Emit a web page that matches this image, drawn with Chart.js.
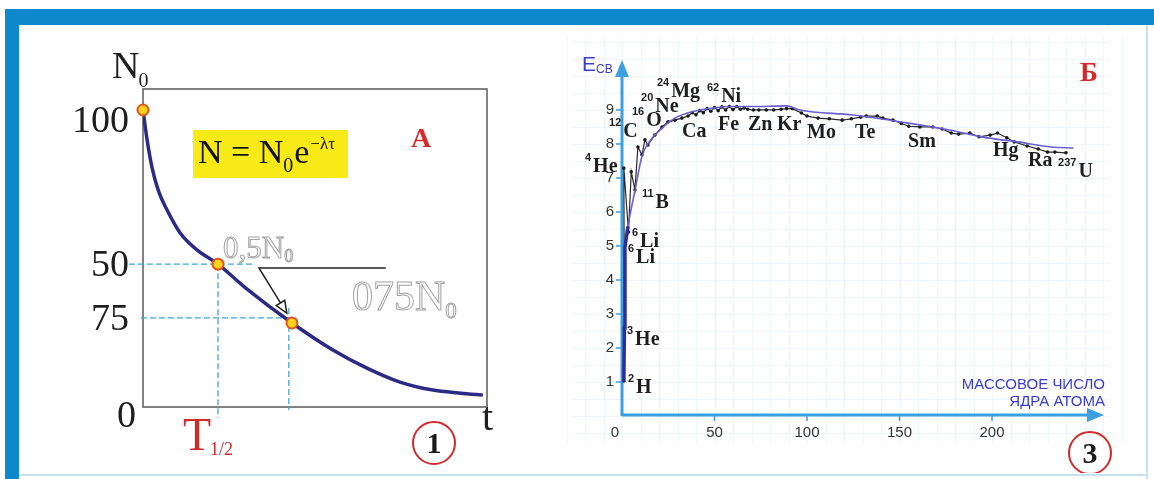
<!doctype html>
<html lang="ru">
  <head>
    <meta charset="utf-8">
    <title>Закон радиоактивного распада и энергия связи ядер</title>
    <style>
      * { margin: 0; padding: 0; }
      body { width: 1154px; height: 479px; background: #fff; position: relative; overflow: hidden; }
      .frameTop { position: absolute; left: 5px; top: 9px; width: 1149px; height: 16px; background: #0d88cd; }
      .frameLeft { position: absolute; left: 5px; top: 9px; width: 14px; height: 470px; background: #0d88cd; }
      .frameRight { position: absolute; left: 1146px; top: 25px; width: 2px; height: 454px; background: #c4e2f3; }
      .frameBottom { position: absolute; left: 19px; top: 474px; width: 1129px; height: 2px; background: #c4e2f3; }
      #decay { position: absolute; left: 20px; top: 25px; }
      #binding { position: absolute; left: 560px; top: 25px; }
    </style>
  </head>
  <body>
    <div class="frameTop"></div>
    <div class="frameLeft"></div>
    <div class="frameRight"></div>
    <div class="frameBottom"></div>
    <canvas id="decay" width="540" height="450"></canvas>
    <canvas id="binding" width="580" height="448"></canvas>
    <script src="https://cdn.jsdelivr.net/npm/chart.js@4.4.1/dist/chart.umd.min.js"></script>
    <script>
    // ---- panel 1: decay curve (t in 0..10, N in % of N0)
    const decayT = [0, 0.12, 0.26, 0.44, 0.70, 1.08, 1.57, 2.18, 2.97, 4.33, 5.52, 6.51, 7.47, 8.43, 9.88];
    const decayN = [100, 89.9, 80.8, 73.1, 66.3, 58.6, 52.9, 48.1, 40.2, 28.3, 19.2, 13.1, 8.4, 5.7, 4.0];
    const markT = [0, 2.18, 4.33];
    const markN = [100, 48.1, 28.3];
    // y tick labels as printed on the picture and the level where each one sits
    const decayTickText = ['100', '50', '75', '0'];
    const decayTickAt = [96, 47.5, 29.3, -3.4];
    // dashed guides: horizontal [N, t from, t to], vertical [t, N from, N to]
    const guideH = [[48.1, -0.41, 3.23], [30.0, -0.06, 4.36]];
    const guideV = [[2.18, 48.1, -3.7], [4.24, 33.3, -1.0]];

    // ---- panel 3: binding energy per nucleon vs mass number
    const blackA = [1, 1.3, 1, 3.5, 5, 7, 8.6, 10.8, 12.4, 14, 17.8, 21.6, 24.9, 28.6, 32.4, 35.7, 38, 40, 42, 44, 46, 48,
      50, 52, 54, 56, 58, 60, 62, 64, 66, 68, 71, 74, 78, 82, 86, 89, 92, 97, 100, 106,
      112, 119, 124, 129, 132, 138, 141, 146.5, 151, 155, 161, 168, 173, 178, 182, 188, 193, 199, 203, 208,
      212, 219, 225, 230, 234, 240];
    const blackE = [1.03, 2.59, 7.29, 5.41, 7.18, 6.65, 7.91, 7.68, 8.12, 7.97, 8.26, 8.5, 8.65, 8.7, 8.76, 8.82, 8.92, 8.86, 8.98, 8.92, 9.04, 8.96,
      9.07, 8.98, 9.09, 9.0, 9.1, 9.01, 9.1, 9.02, 9.06, 9.02, 9.0, 9.0, 9.0, 9.0, 9.02, 9.04, 9.04, 8.91, 8.82, 8.76,
      8.74, 8.7, 8.74, 8.79, 8.82, 8.82, 8.76, 8.7, 8.6, 8.52, 8.5, 8.5, 8.44, 8.32, 8.29, 8.32, 8.21, 8.26, 8.32, 8.18,
      8.06, 7.94, 7.85, 7.76, 7.76, 7.74];
    const blueA = [1.6, 3.2, 7, 10.8, 15, 21.6, 28.6, 38, 50, 60, 70, 89, 96, 125, 154, 177, 195, 214, 232, 244];
    const blueE = [4.96, 5.57, 6.63, 7.64, 8.08, 8.46, 8.76, 8.95, 9.06, 9.1, 9.1, 9.12, 9.0, 8.85, 8.62, 8.41, 8.2, 8.06, 7.91, 7.88];
    const lightA = [1, 1.3, 1.6, 3.2];
    const lightE = [1.0, 2.59, 4.96, 5.57];
    const bindYTicks = [1, 2, 3, 4, 5, 6, 7, 8, 9];
    const bindXTicks = [0, 50, 100, 150, 200];
    // nuclide labels: superscript, symbol, anchor (A, E) = left edge / baseline
    const nucSup = ['4', '11', '6', '6', '12', '16', '20', '24', '62', '', '', '', '', '', '', '', '', '', '237', '3', '2'];
    const nucName = ['He', 'B', 'Li', 'Li', 'C', 'O', 'Ne', 'Mg', 'Ni', 'Ca', 'Fe', 'Zn', 'Kr', 'Mo', 'Te', 'Sm', 'Hg', 'Ra', 'U', 'He', 'H'];
    const nucA = [-20, 10.8, 5.4, 3.2, -7, 5.4, 10.3, 18.9, 45.9, 32.4, 51.9, 68.1, 83.8, 100, 126, 154.6, 200.5, 219.5, 235.7, 2.7, 3.2];
    const nucE = [7.18, 6.12, 4.97, 4.5, 8.21, 8.53, 8.94, 9.38, 9.24, 8.21, 8.41, 8.41, 8.41, 8.18, 8.18, 7.91, 7.65, 7.35, 7.03, 2.09, 0.68];

    const SERIF = '"Liberation Serif", "Times New Roman", serif';
    const SANS = '"Liberation Sans", Arial, sans-serif';

    function put(ctx, s, x, y, font, color, align) {
      ctx.font = font;
      ctx.fillStyle = color;
      ctx.textAlign = align || 'left';
      ctx.fillText(s, x, y);
      return x + ctx.measureText(s).width;
    }
    function hollow(ctx, s, x, y, font) {
      ctx.font = font;
      ctx.textAlign = 'left';
      ctx.lineWidth = 1;
      ctx.strokeStyle = '#a3a3a3';
      ctx.strokeText(s, x, y);
      return x + ctx.measureText(s).width;
    }
    function ring(ctx, cx, cy, label) {
      ctx.beginPath();
      ctx.arc(cx, cy, 21, 0, Math.PI * 2);
      ctx.lineWidth = 2;
      ctx.strokeStyle = '#d22a2a';
      ctx.stroke();
      ctx.textBaseline = 'middle';
      put(ctx, label, cx, cy + 2, 'bold 30px ' + SERIF, '#1a1a1a', 'center');
      ctx.textBaseline = 'alphabetic';
    }

    // decay panel decorations
    const decayDecor = {
      id: 'decayDecor',
      beforeDatasetsDraw(chart) {
        const { ctx, chartArea: { left, top, right, bottom }, scales: { x, y } } = chart;
        ctx.save();
        ctx.fillStyle = '#f8ea17';
        ctx.fillRect(left + 50, top + 41, 155, 48);

        ctx.strokeStyle = '#5a5a5a';
        ctx.lineWidth = 1.5;
        ctx.strokeRect(left, top, right - left, bottom - top);

        ctx.setLineDash([6, 3]);
        ctx.strokeStyle = '#3aa8d8';
        ctx.lineWidth = 1.3;
        guideH.forEach(([n, t0, t1]) => {
          ctx.beginPath();
          ctx.moveTo(x.getPixelForValue(t0), y.getPixelForValue(n));
          ctx.lineTo(x.getPixelForValue(t1), y.getPixelForValue(n));
          ctx.stroke();
        });
        guideV.forEach(([t, n0, n1]) => {
          ctx.beginPath();
          ctx.moveTo(x.getPixelForValue(t), y.getPixelForValue(n0));
          ctx.lineTo(x.getPixelForValue(t), y.getPixelForValue(n1));
          ctx.stroke();
        });
        ctx.restore();
      },
      afterDraw(chart) {
        const { ctx, chartArea: { left, top, right, bottom }, scales: { x, y } } = chart;
        ctx.save();
        // y labels
        ctx.textBaseline = 'middle';
        decayTickText.forEach((s, i) => {
          const px = decayTickAt[i] < 0 ? left - 7 : left - 14;
          put(ctx, s, px, y.getPixelForValue(decayTickAt[i]), '38px ' + SERIF, '#1e1e1e', 'right');
        });
        ctx.textBaseline = 'alphabetic';
        // N0 axis title
        let nx = put(ctx, 'N', left - 31, top - 11, '38px ' + SERIF, '#1e1e1e');
        put(ctx, '0', nx - 1, top - 2, '20px ' + SERIF, '#1e1e1e');
        // formula
        let fx = put(ctx, 'N = N', left + 55, top + 74, '34px ' + SERIF, '#111');
        fx = put(ctx, '0', fx, top + 83, '20px ' + SERIF, '#111');
        fx = put(ctx, 'e', fx + 1, top + 74, '34px ' + SERIF, '#111');
        put(ctx, '\u2212\u03bb\u03c4', fx + 1, top + 60, '17px ' + SERIF, '#111');
        // panel letter
        put(ctx, 'A', left + 268, top + 58, 'bold 28px ' + SERIF, '#d42a2a');
        // hollow captions
        let hx = hollow(ctx, '0,5N', left + 80, top + 169, '31px ' + SERIF);
        hollow(ctx, '0', hx, top + 173, '18px ' + SERIF);
        hx = hollow(ctx, '075N', left + 209, top + 221, '42px ' + SERIF);
        hollow(ctx, '0', hx, top + 229, '23px ' + SERIF);
        // leader with open arrow
        const ax = x.getPixelForValue(3.37), ay = y.getPixelForValue(46.8);
        const bx = x.getPixelForValue(4.18), by = y.getPixelForValue(31.6);
        ctx.strokeStyle = '#222';
        ctx.lineWidth = 1.5;
        ctx.beginPath();
        ctx.moveTo(x.getPixelForValue(7.06), ay);
        ctx.lineTo(ax, ay);
        ctx.lineTo(bx, by);
        ctx.stroke();
        const len = Math.hypot(bx - ax, by - ay), ux = (bx - ax) / len, uy = (by - ay) / len;
        ctx.beginPath();
        ctx.moveTo(bx, by);
        ctx.lineTo(bx - 12 * ux - 5 * uy, by - 12 * uy + 5 * ux);
        ctx.lineTo(bx - 12 * ux + 5 * uy, by - 12 * uy - 5 * ux);
        ctx.closePath();
        ctx.fillStyle = '#fff';
        ctx.fill();
        ctx.stroke();
        // T1/2 and t
        const tx = put(ctx, 'T', x.getPixelForValue(2.18) - 35, bottom + 43, '46px ' + SERIF, '#cc2c2c');
        put(ctx, '1/2', tx - 1, bottom + 48, '18px ' + SERIF, '#cc2c2c');
        put(ctx, 't', right - 5, bottom + 23, '40px ' + SERIF, '#1e1e1e');
        ring(ctx, right - 53, bottom + 36, '1');
        ctx.restore();
      }
    };

    new Chart(document.getElementById('decay'), {
      type: 'line',
      data: {
        datasets: [{
          data: markT.map((t, i) => ({ x: t, y: markN[i] })),
          showLine: false,
          pointRadius: 5.5,
          pointBackgroundColor: '#ffd21c',
          pointBorderColor: '#e4531b',
          pointBorderWidth: 2,
          clip: false
        }, {
          data: decayT.map((t, i) => ({ x: t, y: decayN[i] })),
          borderColor: '#2b2a85',
          borderWidth: 3.5,
          pointRadius: 0,
          cubicInterpolationMode: 'monotone'
        }]
      },
      options: {
        responsive: false,
        animation: false,
        devicePixelRatio: 1,
        layout: { padding: { left: 123, right: 73, top: 64, bottom: 68 } },
        scales: {
          x: { type: 'linear', min: 0, max: 10, display: false },
          y: { min: 0, max: 107.07, display: false }
        },
        plugins: { legend: { display: false }, tooltip: { enabled: false } }
      },
      plugins: [decayDecor]
    });

    // binding energy panel decorations
    const bindDecor = {
      id: 'bindDecor',
      beforeDraw(chart) {
        const { ctx, scales: { x, y } } = chart;
        ctx.save();
        ctx.strokeStyle = 'rgba(150, 200, 228, 0.16)';
        ctx.lineWidth = 1;
        for (let a = -30; a <= 270; a += 10) {
          const px = Math.round(x.getPixelForValue(a)) + 0.5;
          ctx.beginPath(); ctx.moveTo(px, 12); ctx.lineTo(px, 418); ctx.stroke();
        }
        for (let e = -0.5; e <= 11.5; e += 0.5) {
          const py = Math.round(y.getPixelForValue(e)) + 0.5;
          ctx.beginPath(); ctx.moveTo(12, py); ctx.lineTo(550, py); ctx.stroke();
        }
        ctx.restore();
      },
      beforeDatasetsDraw(chart) {
        const { ctx, chartArea: { left, top, right, bottom }, scales: { x, y } } = chart;
        ctx.save();
        ctx.strokeStyle = '#3c9fe0';
        ctx.fillStyle = '#3c9fe0';
        ctx.lineWidth = 3;
        ctx.beginPath();
        ctx.moveTo(left, bottom); ctx.lineTo(left, top + 12);
        ctx.moveTo(left, bottom - 1); ctx.lineTo(right - 14, bottom - 1);
        ctx.stroke();
        ctx.beginPath();
        ctx.moveTo(left, top - 2); ctx.lineTo(left - 7, top + 15); ctx.lineTo(left + 7, top + 15); ctx.closePath();
        ctx.moveTo(right + 1, bottom - 1); ctx.lineTo(right - 16, bottom - 8); ctx.lineTo(right - 16, bottom + 6); ctx.closePath();
        ctx.fill();
        ctx.lineWidth = 1.5;
        bindYTicks.forEach(v => {
          const py = y.getPixelForValue(v);
          ctx.beginPath(); ctx.moveTo(left - 6, py); ctx.lineTo(left, py); ctx.stroke();
        });
        bindXTicks.slice(1).forEach(v => {
          const px = x.getPixelForValue(v);
          ctx.beginPath(); ctx.moveTo(px, bottom); ctx.lineTo(px, bottom + 5); ctx.stroke();
        });
        ctx.restore();
      },
      afterDraw(chart) {
        const { ctx, chartArea: { left, top, right, bottom }, scales: { x, y } } = chart;
        ctx.save();
        ctx.textBaseline = 'middle';
        bindYTicks.forEach(v => put(ctx, String(v), left - 8, y.getPixelForValue(v), '15px ' + SANS, '#333', 'right'));
        bindXTicks.forEach(v => {
          if (v === 0) put(ctx, '0', left - 3, bottom + 17, '15px ' + SANS, '#333', 'right');
          else put(ctx, String(v), x.getPixelForValue(v), bottom + 17, '15px ' + SANS, '#333', 'center');
        });
        ctx.textBaseline = 'alphabetic';
        // axis titles
        const ex = put(ctx, 'E', left - 40, top + 9, '21px ' + SANS, '#3b3bcf');
        put(ctx, 'СВ', ex, top + 11, '12px ' + SANS, '#3b3bcf');
        put(ctx, 'МАССОВОЕ ЧИСЛО', right + 2, bottom - 27, '15px ' + SANS, '#3b3bcf', 'right');
        put(ctx, 'ЯДРА АТОМА', right + 2, bottom - 10, '15px ' + SANS, '#3b3bcf', 'right');
        put(ctx, 'Б', right - 14, top + 19, 'bold 27px ' + SERIF, '#d42a2a', 'center');
        // nuclide names
        nucName.forEach((nm, i) => {
          let px = x.getPixelForValue(nucA[i]);
          const py = y.getPixelForValue(nucE[i]);
          if (nucSup[i]) px = put(ctx, nucSup[i], px, py - 11, 'bold 11px ' + SANS, '#1e1e1e') + 2;
          put(ctx, nm, px, py, 'bold 20px ' + SERIF, '#1e1e1e');
        });
        ring(ctx, right - 13, bottom + 37, '3');
        ctx.restore();
      }
    };

    new Chart(document.getElementById('binding'), {
      type: 'line',
      data: {
        datasets: [{
          data: lightA.map((a, i) => ({ x: a, y: lightE[i] })),
          borderColor: '#2c2c9e',
          borderWidth: 3.5,
          pointRadius: 0,
          clip: false
        }, {
          data: blueA.map((a, i) => ({ x: a, y: blueE[i] })),
          borderColor: '#6b5fd2',
          borderWidth: 1.6,
          pointRadius: 0,
          cubicInterpolationMode: 'monotone',
          clip: false
        }, {
          data: blackA.map((a, i) => ({ x: a, y: blackE[i] })),
          borderColor: '#2a2a2a',
          borderWidth: 1.2,
          pointRadius: 1.8,
          pointBackgroundColor: '#1a1a1a',
          pointBorderWidth: 0,
          clip: false
        }]
      },
      options: {
        responsive: false,
        animation: false,
        devicePixelRatio: 1,
        layout: { padding: { left: 62, right: 37, top: 37, bottom: 57 } },
        scales: {
          x: { type: 'linear', min: 0, max: 260, display: false },
          y: { min: 0, max: 10.41, display: false }
        },
        plugins: { legend: { display: false }, tooltip: { enabled: false } }
      },
      plugins: [bindDecor]
    });
    </script>
  </body>
</html>
